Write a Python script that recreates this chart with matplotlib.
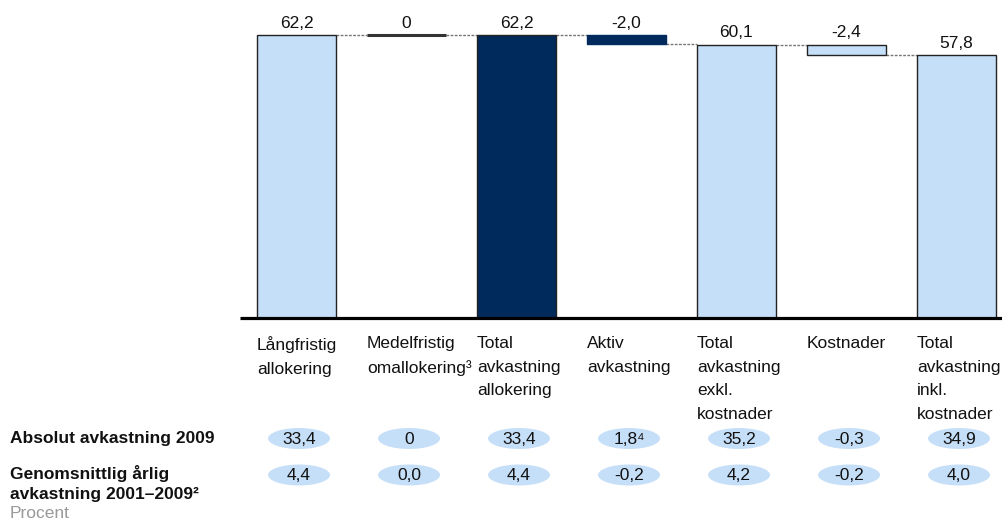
import matplotlib
matplotlib.use("Agg")
import matplotlib.pyplot as plt
from matplotlib.patches import Ellipse

plt.rcParams['font.family'] = ['Liberation Sans', 'DejaVu Sans']

categories = ["Långfristig\nallokering", "Medelfristig\nomallokering³", "Total\navkastning\nallokering",
              "Aktiv\navkastning", "Total\navkastning\nexkl.\nkostnader", "Kostnader",
              "Total\navkastning\ninkl.\nkostnader"]
values = [62.2, 0.0, 62.2, -2.0, 60.1, -2.4, 57.8]
kinds = ["total", "delta", "total", "delta", "total", "delta", "total"]
value_labels = ["62,2", "0", "62,2", "-2,0", "60,1", "-2,4", "57,8"]
colors = ["#C6DFF8", "#333333", "#002A5C", "#002A5C", "#C6DFF8", "#C6DFF8", "#C6DFF8"]
abs_2009 = ["33,4", "0", "33,4", "1,8⁴", "35,2", "-0,3", "34,9"]
avg_2001_2009 = ["4,4", "0,0", "4,4", "-0,2", "4,2", "-0,2", "4,0"]

W, H = 1003, 522
fig = plt.figure(figsize=(W / 100, H / 100), dpi=100)

ax = fig.add_axes([240 / W, (H - 317.5) / H, 1 - 240 / W, 317.5 / H])
ax.set_xlim(-0.514, 6.423)
ax.set_ylim(0, 317.5 / (282.5 / 62.2))
ax.axis("off")

bw = 0.718
level = 0.0
tops = []
for i, (v, k) in enumerate(zip(values, kinds)):
    if k == "total":
        level = v
        ax.bar(i, v, width=bw, color=colors[i], edgecolor="#222222", linewidth=1.0, zorder=3)
        ylab = v
        end_level = v
    else:
        start = level
        end = level + v
        if v == 0:
            ax.plot([i - bw / 2, i + bw / 2], [start, start], color=colors[i], lw=2.2, zorder=3,
                    solid_capstyle="butt")
            ylab = start
        else:
            ax.bar(i, end - start, bottom=start, width=bw, color=colors[i],
                   edgecolor="#222222" if colors[i] != "#002A5C" else "#002A5C", linewidth=1.0, zorder=3)
            ylab = max(start, end)
        end_level = end
        level = end
    ax.text(i, ylab + 0.9, value_labels[i], ha="center", va="bottom", fontsize=12.5, color="#111111")
    tops.append(end_level)

for i in range(len(values) - 1):
    y = tops[i]
    ax.plot([i + bw / 2, i + 1 - bw / 2], [y, y], color="#777777", lw=1.0,
            linestyle=(0, (2, 1)), zorder=2)

ax.plot([-0.514, 6.423], [0, 0], color="black", lw=2.3, zorder=4, clip_on=False,
        solid_capstyle="butt")

for i, c in enumerate(categories):
    ax.annotate(c, xy=(i - bw / 2, 0), xytext=(0, -13.3), textcoords="offset points",
                ha="left", va="top", fontsize=12.5, linespacing=1.72, color="#111111",
                annotation_clip=False)

fax = fig.add_axes([0, 0, 1, 1], zorder=-1)
fax.set_xlim(0, W)
fax.set_ylim(H, 0)
fax.axis("off")

def xpix(i):
    return 240 + (i + 0.514) * 110 + 2.5

for row_vals, yc in [(abs_2009, 438.5), (avg_2001_2009, 475)]:
    for i, t in enumerate(row_vals):
        fax.add_patch(Ellipse((xpix(i), yc), 62, 21, facecolor="#C6DFF8", edgecolor="none"))
        fax.text(xpix(i), yc + 1, t, ha="center", va="center", fontsize=12.5, color="#111111")

fax.text(10, 439, "Absolut avkastning 2009", ha="left", va="center", fontsize=12.5,
         fontweight="bold", color="#111111")
fax.text(10, 474, "Genomsnittlig årlig", ha="left", va="center", fontsize=12.5,
         fontweight="bold", color="#111111")
fax.text(10, 494.5, "avkastning 2001–2009²", ha="left", va="center", fontsize=12.5,
         fontweight="bold", color="#111111")
fax.text(10, 514, "Procent", ha="left", va="center", fontsize=12.5, color="#999999")

fig.savefig("out.png", dpi=100)
